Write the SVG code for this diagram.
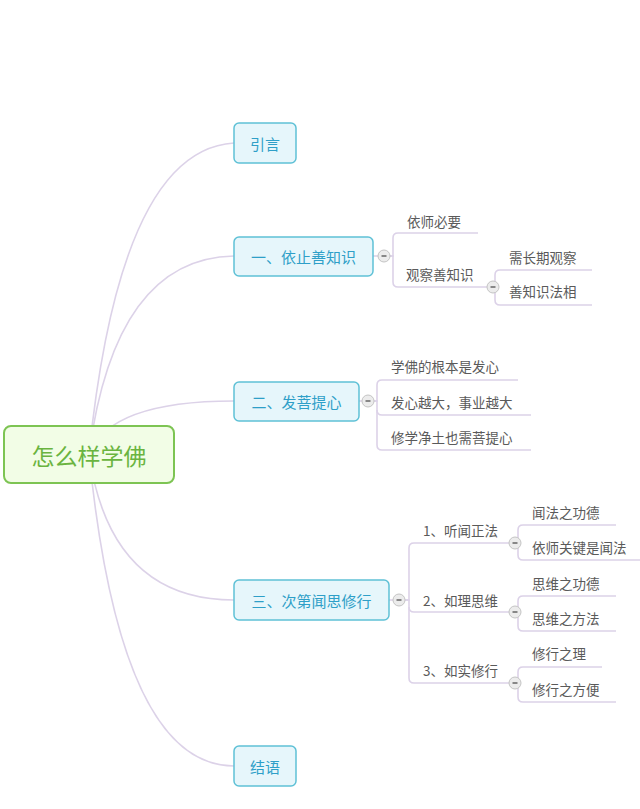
<svg xmlns="http://www.w3.org/2000/svg" width="640" height="809" viewBox="0 0 640 809">
<style>
.c{fill:none;stroke:#dcd2e8;stroke-width:1.6}
.b rect{fill:#e6f6fb;stroke:#5fc1d6;stroke-width:1.5}
.b text{font-family:"Noto Sans CJK SC","Liberation Sans",sans-serif;font-size:15px;fill:#2e9fc8;text-anchor:middle;dominant-baseline:central}
.s{font-family:"Noto Sans CJK SC","Liberation Sans",sans-serif;font-size:13.5px;fill:#5a5a5a;dominant-baseline:central}
.k circle{fill:#ececec;stroke:#c4c4c4;stroke-width:1}
.k line{stroke:#666;stroke-width:1.5}
</style>
<rect width="640" height="809" fill="#ffffff"/>
<g id="connectors">
<path class="c" d="M89,454 Q120,150 234,143"/>
<path class="c" d="M89,454 Q115,258 234,256"/>
<path class="c" d="M89,454 Q110,401 234,401"/>
<path class="c" d="M89,454 Q110,600 234,600"/>
<path class="c" d="M89,454 Q120,766 234,766"/>
<path class="c" d="M373,256 H378"/>
<path class="c" d="M390,256 H393 V238 Q393,233 398,233 H478"/>
<path class="c" d="M390,256 H393 V282 Q393,287 398,287 H488"/>
<path class="c" d="M495,287 V275 Q495,270 500,270 H592"/>
<path class="c" d="M495,287 V300 Q495,305 500,305 H592"/>
<path class="c" d="M359,401 H362"/>
<path class="c" d="M374,401 H377 V385 Q377,380 382,380 H518"/>
<path class="c" d="M374,401 H377 V410 Q377,415 382,415 H531"/>
<path class="c" d="M377,410 V445 Q377,450 382,450 H531"/>
<path class="c" d="M389,600 H393"/>
<path class="c" d="M405,600 H409 V548 Q409,543 414,543 H510"/>
<path class="c" d="M405,600 H409 V607 Q409,612 414,612 H510"/>
<path class="c" d="M409,607 V678 Q409,683 414,683 H510"/>
<path class="c" d="M518,543 V530 Q518,525 523,525 H616"/>
<path class="c" d="M518,543 V555 Q518,560 523,560 H640"/>
<path class="c" d="M518,612 V601 Q518,596 523,596 H616"/>
<path class="c" d="M518,612 V626 Q518,631 523,631 H616"/>
<path class="c" d="M518,683 V672 Q518,667 523,667 H602"/>
<path class="c" d="M518,683 V697 Q518,702 523,702 H616"/>
</g>
<g id="root">
<rect x="4" y="426" width="170" height="57" rx="7" fill="#f2fde6" stroke="#7dc453" stroke-width="2"/>
<text x="89" y="455" font-family="Noto Sans CJK SC, Liberation Sans, sans-serif" font-size="23" fill="#6ab43f" text-anchor="middle" dominant-baseline="central">怎么样学佛</text>
</g>
<g id="n-intro" class="b"><rect x="234" y="123" width="62" height="40" rx="5"/><text x="265" y="143">引言</text></g>
<g id="n-1" class="b"><rect x="234" y="237" width="139" height="39" rx="5"/><text x="303.5" y="256.5">一、依止善知识</text></g>
<g id="n-2" class="b"><rect x="234" y="382" width="125" height="39" rx="5"/><text x="296.5" y="401.5">二、发菩提心</text></g>
<g id="n-3" class="b"><rect x="234" y="580" width="155" height="40" rx="5"/><text x="311.5" y="600">三、次第闻思修行</text></g>
<g id="n-end" class="b"><rect x="234" y="746" width="62" height="40" rx="5"/><text x="265" y="766">结语</text></g>
<g id="toggles" class="k">
<circle cx="384" cy="256" r="6"/><line x1="381.5" y1="256" x2="386.5" y2="256"/>
<circle cx="493" cy="287" r="6"/><line x1="490.5" y1="287" x2="495.5" y2="287"/>
<circle cx="368" cy="401" r="6"/><line x1="365.5" y1="401" x2="370.5" y2="401"/>
<circle cx="399" cy="600" r="6"/><line x1="396.5" y1="600" x2="401.5" y2="600"/>
<circle cx="515" cy="543" r="6"/><line x1="512.5" y1="543" x2="517.5" y2="543"/>
<circle cx="515" cy="612" r="6"/><line x1="512.5" y1="612" x2="517.5" y2="612"/>
<circle cx="515" cy="683" r="6"/><line x1="512.5" y1="683" x2="517.5" y2="683"/>
</g>
<g id="n-1-1"><text class="s" x="407" y="221">依师必要</text></g>
<g id="n-1-2"><text class="s" x="406" y="274">观察善知识</text></g>
<g id="n-1-2-1"><text class="s" x="509" y="257">需长期观察</text></g>
<g id="n-1-2-2"><text class="s" x="509" y="291">善知识法相</text></g>
<g id="n-2-1"><text class="s" x="391" y="366">学佛的根本是发心</text></g>
<g id="n-2-2"><text class="s" x="391" y="402">发心越大，事业越大</text></g>
<g id="n-2-3"><text class="s" x="391" y="437">修学净土也需菩提心</text></g>
<g id="n-3-1"><text class="s" x="423" y="530">1、听闻正法</text></g>
<g id="n-3-1-1"><text class="s" x="532" y="512">闻法之功德</text></g>
<g id="n-3-1-2"><text class="s" x="532" y="547">依师关键是闻法</text></g>
<g id="n-3-2"><text class="s" x="423" y="600">2、如理思维</text></g>
<g id="n-3-2-1"><text class="s" x="532" y="583">思维之功德</text></g>
<g id="n-3-2-2"><text class="s" x="532" y="618">思维之方法</text></g>
<g id="n-3-3"><text class="s" x="423" y="670">3、如实修行</text></g>
<g id="n-3-3-1"><text class="s" x="532" y="653">修行之理</text></g>
<g id="n-3-3-2"><text class="s" x="532" y="689">修行之方便</text></g>
</svg>
